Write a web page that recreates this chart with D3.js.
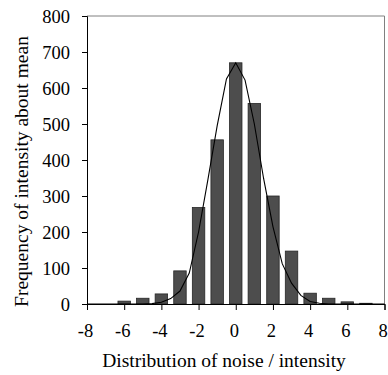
<!DOCTYPE html>
<html>
<head>
<meta charset="utf-8">
<script src="https://cdn.jsdelivr.net/npm/d3@7"></script>
<style>
  html, body { margin: 0; padding: 0; background: #fff; }
  svg { display: block; }
  text { font-family: "Liberation Serif", "Times New Roman", serif; fill: #000; }
</style>
</head>
<body>
<svg id="chart" width="388" height="375"></svg>
<script>
// ---- data ----
const barX = [-6, -5, -4, -3, -2, -1, 0, 1, 2, 3, 4, 5, 6, 7];
const barValues = [8, 16, 28, 92, 268, 456, 670, 557, 300, 147, 30, 16, 6, 2];

const curveX = [-8, -7.5, -7, -6.5, -6, -5.5, -5, -4.5, -4, -3.5, -3, -2.5, -2, -1.5, -1, -0.5,
                0, 0.5, 1, 1.5, 2, 2.5, 3, 3.5, 4, 4.5, 5, 5.5, 6, 6.5, 7, 7.5, 8];
const curveValues = [0, 0, 0, 0, 0, 0, 0, 1, 5, 15, 36, 86, 200, 345, 495, 625,
                     670, 622, 500, 348, 215, 112, 58, 24, 7, 2, 0, 0, 0, 0, 0, 0, 0];

const xTicks = [-8, -6, -4, -2, 0, 2, 4, 6, 8];
const yTicks = [0, 100, 200, 300, 400, 500, 600, 700, 800];

const xTitle = "Distribution of noise / intensity";
const yTitle = "Frequency of intensity about mean";

// ---- layout ----
const mLeft = 87, mRight = 384.5, mTop = 16, mBottom = 304;
const svg = d3.select("#chart");

const x = d3.scaleLinear().domain([-8, 8]).range([mLeft, mRight]);
const y = d3.scaleLinear().domain([0, 800]).range([mBottom, mTop]);

// frame (top & right)
svg.append("line").attr("x1", mLeft).attr("x2", mRight).attr("y1", mTop).attr("y2", mTop)
  .attr("stroke", "#808080").attr("stroke-width", 1);
svg.append("line").attr("x1", mRight).attr("x2", mRight).attr("y1", mTop).attr("y2", mBottom)
  .attr("stroke", "#808080").attr("stroke-width", 1);

// bars
const bw = (x(1) - x(0)) * 0.67;
svg.append("g").selectAll("rect").data(barX).join("rect")
  .attr("x", (d) => x(d) - bw / 2)
  .attr("width", bw)
  .attr("y", (d, i) => y(barValues[i]))
  .attr("height", (d, i) => y(0) - y(barValues[i]))
  .attr("fill", "#4d4d4d")
  .attr("stroke", "#262626")
  .attr("stroke-width", 0.8);

// curve
const line = d3.line().x((d) => x(d[0])).y((d) => y(d[1])).curve(d3.curveLinear);
svg.append("path")
  .datum(curveX.map((v, i) => [v, curveValues[i]]))
  .attr("d", line)
  .attr("fill", "none")
  .attr("stroke", "#000")
  .attr("stroke-width", 1.1);

// axes
const fs = 18.5;
const yAxis = d3.axisLeft(y).tickValues(yTicks).tickSize(5).tickPadding(12).tickFormat(d3.format("d"));
const gy = svg.append("g").attr("transform", `translate(${mLeft},0)`).call(yAxis);
gy.select(".domain").attr("stroke", "#000");
gy.selectAll(".tick line").attr("stroke", "#000");
gy.selectAll("text").attr("font-size", fs).attr("font-family", "Liberation Serif").attr("dy", "0.36em");

const xAxis = d3.axisBottom(x).tickValues(xTicks).tickSize(6).tickPadding(14).tickFormat((d) => String(d).replace("\u2212", "-"));
const gx = svg.append("g").attr("transform", `translate(0,${mBottom})`).call(xAxis);
gx.select(".domain").attr("stroke", "#000");
gx.selectAll(".tick line").attr("stroke", "#000");
gx.selectAll("text").attr("font-size", fs).attr("font-family", "Liberation Serif").attr("dx", -2);

// titles
svg.append("text")
  .attr("x", 224).attr("y", 366.5)
  .attr("text-anchor", "middle")
  .attr("font-size", 19.5)
  .text(xTitle);

svg.append("text")
  .attr("transform", "translate(28,171.5) rotate(-90)")
  .attr("text-anchor", "middle")
  .attr("font-size", 19.5)
  .text(yTitle);
</script>
</body>
</html>
